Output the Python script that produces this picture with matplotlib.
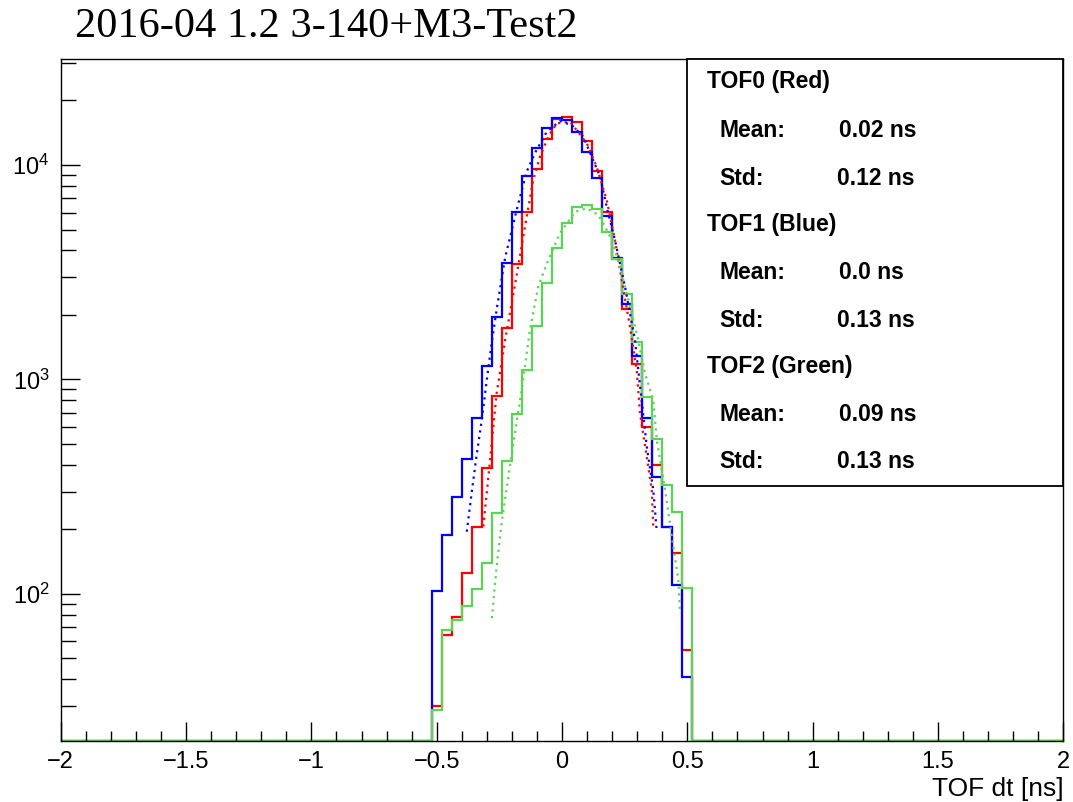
import numpy as np
import matplotlib
matplotlib.use("Agg")
import matplotlib.pyplot as plt
from matplotlib.patches import Rectangle
from matplotlib.ticker import MultipleLocator, LogLocator, FuncFormatter, NullFormatter

plt.rcParams['font.family'] = ['Liberation Sans', 'DejaVu Sans']
plt.rcParams['mathtext.default'] = 'regular'

# histogram counts, bins of 0.04 ns from -0.52 to 0.52 (zero elsewhere in [-2, 2])
tof0_red = [30, 64, 78, 125, 204, 387, 841, 1740, 3440, 6010, 9550, 13230, 16400,
            16820, 15840, 12950, 9370, 6010, 3660, 2120, 1180, 600, 400, 206, 155, 55]
tof1_blue = [103, 188, 284, 426, 662, 1160, 1950, 3510, 6010, 8890, 12050, 14940, 16520,
             16230, 14310, 11540, 8670, 5780, 3700, 2240, 1280, 662, 349, 204, 110, 41]
tof2_green = [28.6, 67.6, 75.6, 87.3, 105, 140, 237, 418, 692, 1110, 1775, 2818, 4110,
              5370, 6390, 6500, 6210, 4890, 3660, 2490, 1494, 826, 525, 323, 242, 107]

# dotted fit curves (x in ns, y in counts)
fit_red_x = [-0.314, -0.287, -0.261, -0.227, -0.181, -0.141, -0.115, -0.088, -0.055, -0.021,
             0.032, 0.099, 0.138, 0.178, 0.211, 0.238, 0.271, 0.298, 0.311, 0.338, 0.358, 0.364]
fit_red_y = [206, 422, 861, 1528, 3070, 5740, 8510, 10930, 13550, 15640,
             15920, 12620, 9820, 6870, 4470, 2910, 1762, 1107, 695, 436, 305, 203]
fit_blue_x = [-0.380, -0.360, -0.340, -0.320, -0.300, -0.280, -0.260, -0.227, -0.181, -0.141,
              -0.108, -0.061, -0.008, 0.039, 0.085, 0.112, 0.152, 0.178, 0.211, 0.251, 0.291,
              0.338, 0.364, 0.378]
fit_blue_y = [195, 300, 450, 650, 1000, 1500, 2150, 3700, 6170, 9310,
              11380, 14290, 16030, 15340, 13550, 11380, 8820, 6400, 4470, 2710, 1528,
              486, 305, 195]
fit_green_x = [-0.280, -0.261, -0.241, -0.214, -0.188, -0.161, -0.128, -0.095, -0.055, -0.008,
               0.052, 0.099, 0.145, 0.172, 0.198, 0.231, 0.265, 0.298, 0.331, 0.364, 0.378,
               0.411, 0.438, 0.464, 0.471]
fit_green_y = [77, 134, 214, 353, 561, 893, 1702, 2710, 3610, 4810,
               6050, 6280, 5850, 5150, 4470, 3360, 2350, 1640, 1069, 802, 522,
               305, 185, 116, 81]

title = "2016-04 1.2 3-140+M3-Test2"
stats = [("TOF0 (Red)", "0.02 ns", "0.12 ns"),
         ("TOF1 (Blue)", "0.0 ns", "0.13 ns"),
         ("TOF2 (Green)", "0.09 ns", "0.13 ns")]

ymin, ymax = 20.6, 31100
edges = np.linspace(-2, 2, 101)
first_bin = 37

red = 'red'
blue = 'blue'
green = '#59d454'

fig = plt.figure(figsize=(10.73, 8.02), dpi=100)
ax = fig.add_axes([0.0566, 0.0761, 0.9344, 0.8499])


def full_hist(counts):
    vals = np.full(100, ymin)
    vals[first_bin:first_bin + len(counts)] = counts
    return vals


for counts, fx, fy, col in [(tof0_red, fit_red_x, fit_red_y, red),
                            (tof1_blue, fit_blue_x, fit_blue_y, blue),
                            (tof2_green, fit_green_x, fit_green_y, green)]:
    ax.stairs(full_hist(counts), edges, color=col, lw=1.6, baseline=None)
    ax.plot(fx, fy, color=col, ls=(0, (1, 2)), lw=1.6)

ax.set_yscale('log')
ax.set_xlim(-2, 2)
ax.set_ylim(ymin, ymax)

# ROOT-like axes
ax.xaxis.set_major_locator(MultipleLocator(0.5))
ax.xaxis.set_minor_locator(MultipleLocator(0.1))
ax.xaxis.set_major_formatter(FuncFormatter(lambda v, _: f"{v:g}".replace('-', '\u2212')))
ax.set_yticks([1e2, 1e3, 1e4])
ax.yaxis.set_minor_locator(LogLocator(base=10, subs=range(2, 10)))
ax.yaxis.set_minor_formatter(NullFormatter())
ax.yaxis.set_major_formatter(FuncFormatter(
    lambda v, _: f"$10^{{{int(round(np.log10(v)))}}}$"))
ax.tick_params(axis='x', which='major', direction='in', length=14, width=1, labelsize=17, pad=7)
ax.tick_params(axis='x', which='minor', direction='in', length=7, width=1)
ax.tick_params(axis='y', which='major', direction='in', length=14, width=1, labelsize=17, pad=8)
ax.tick_params(axis='y', which='minor', direction='in', length=10.5, width=1)
for s in ax.spines.values():
    s.set_linewidth(1)

ax.set_xlabel("TOF dt [ns]", fontsize=19, loc='right', labelpad=3)

fig.text(75 / 1073, 1 - 37 / 802, title, family='Liberation Serif', fontsize=30.5,
         va='baseline', ha='left')

# stats box
ax.add_patch(Rectangle((0.6247, 0.374), 0.3753, 0.626, transform=ax.transAxes,
                       facecolor='white', edgecolor='black', lw=1.3, zorder=5, clip_on=False))
rows_y = [81.7, 130, 178.3, 224, 272.3, 320, 366.7, 414.3, 461.7]
i = 0
for name, mean, std in stats:
    yn = (741 - rows_y[i]) / 681.7
    ym = (741 - rows_y[i + 1]) / 681.7
    ys = (741 - rows_y[i + 2]) / 681.7
    ax.text(0.6446, yn, name, transform=ax.transAxes, fontsize=16.5, weight='bold',
            va='center', zorder=6)
    ax.text(0.6566, ym, "Mean:", transform=ax.transAxes, fontsize=16.5, weight='bold',
            va='center', zorder=6)
    ax.text(0.7763, ym, mean, transform=ax.transAxes, fontsize=16.5, weight='bold',
            va='center', zorder=6)
    ax.text(0.6566, ys, "Std:", transform=ax.transAxes, fontsize=16.5, weight='bold',
            va='center', zorder=6)
    ax.text(0.7743, ys, std, transform=ax.transAxes, fontsize=16.5, weight='bold',
            va='center', zorder=6)
    i += 3

fig.savefig("out.png", dpi=100)
